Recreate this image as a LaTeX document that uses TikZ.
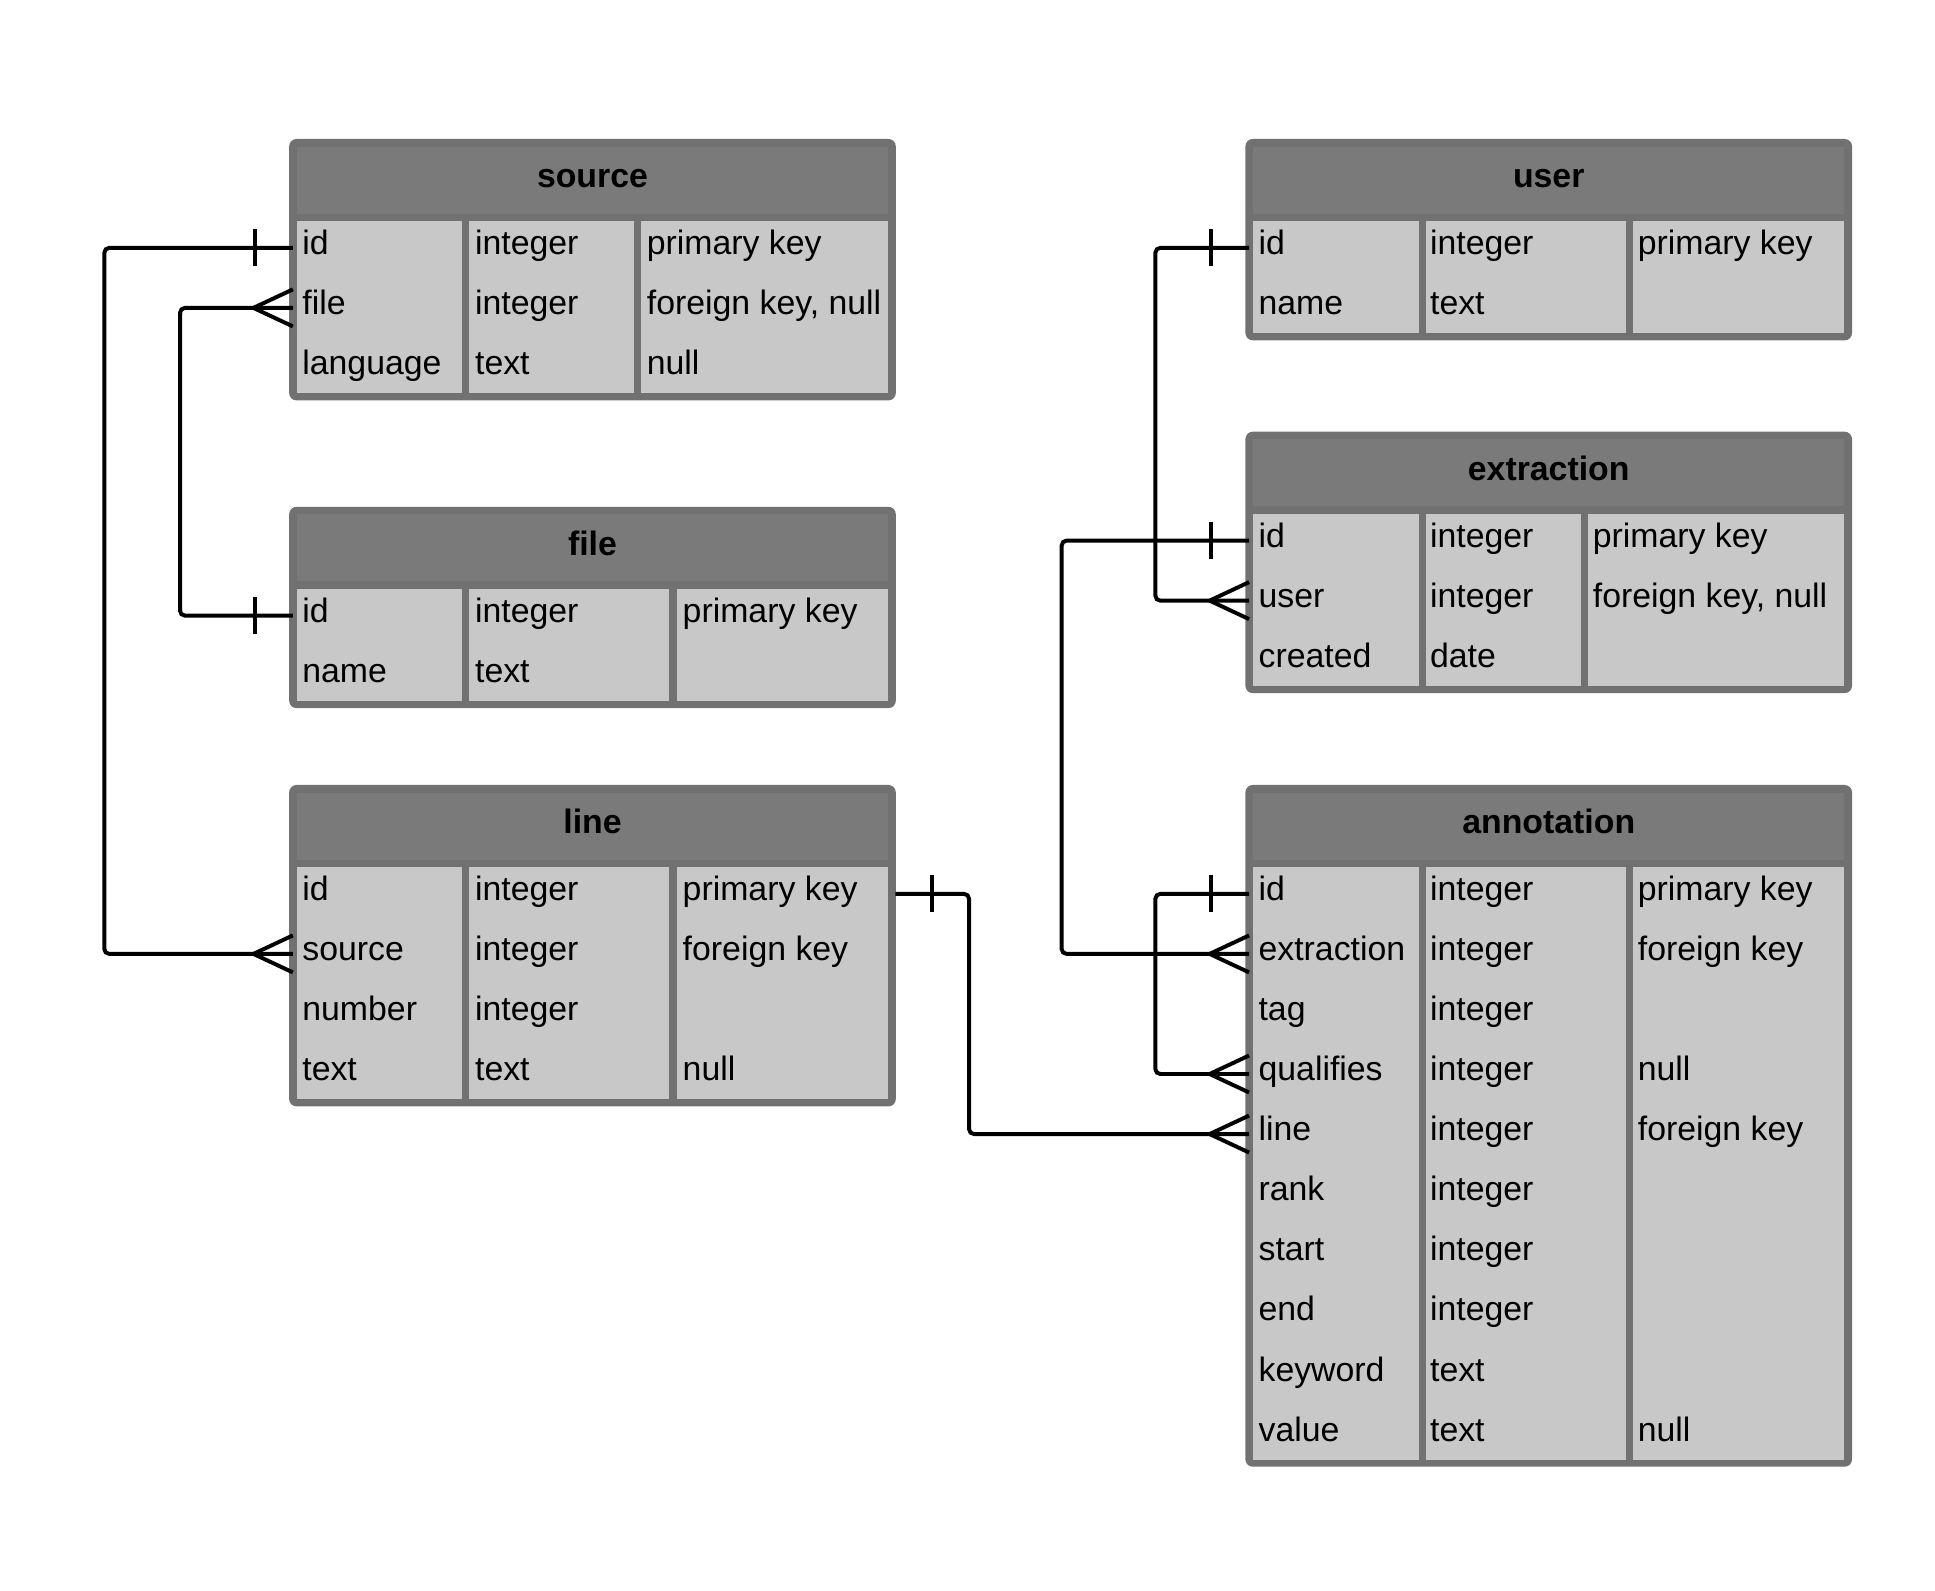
\documentclass[tikz,border=0pt]{standalone}
\usepackage{fontspec}
\setmainfont{Liberation Sans}
\usepackage{xcolor}
\definecolor{framegray}{RGB}{113,113,113}
\definecolor{headgray}{RGB}{122,122,122}
\definecolor{cellgray}{RGB}{200,200,200}

\begin{document}
\begin{tikzpicture}[x=0.01cm, y=-0.01cm]
        % ================= styles =================
        \tikzset{
            % field name: spans the whole table, connectors attach to its sides
            field/.style={anchor=base west, align=left, font=\fontsize{7.8}{9}\selectfont,
                text height=1.9mm, text depth=0.8mm, inner xsep=1mm, inner ysep=0pt, text width=4.72cm},
            % type / key text
            cell/.style={anchor=base west, font=\fontsize{7.8}{9}\selectfont, inner sep=0pt},
            % table title
            title/.style={anchor=base, font=\fontsize{7.8}{9}\selectfont\bfseries},
            % relation lines
            rel/.style={line width=0.32mm, black, rounded corners=0.4mm},
            onebar/.pic={\draw[rel] (-28,-15) -- (-28,15);},
            crowfoot/.pic={\draw[rel] (-29,0) -- (3,-15) (-29,0) -- (3,15);}
        }

        \useasboundingbox (0,0) rectangle (1569.3,1289.5);

        % ================= 1. table frames =================
        % left x / top / bottom / end of column 2 / start of column 3
        \foreach \tl/\tt/\tb/\ca/\cb in {234.5/112.7/324.7/514.4/519.9,
                234.5/411/574.3/542.7/549, 234.5/636.6/897.3/542.7/549,
                1010/112.7/276/1318.7/1324.6, 1010/350.1/562.1/1282/1287.6,
                1010/636.6/1189.5/1318.7/1324.6} {
            \fill[framegray, rounded corners=0.6mm] (\tl,\tt) rectangle ({\tl+492},\tb);
            \fill[headgray] ({\tl+6.2},{\tt+6.2}) rectangle ({\tl+485.8},{\tt+60.5});
            \fill[cellgray] ({\tl+6.2},{\tt+66.5}) rectangle ({\tl+140.5},{\tb-5.8});
            \fill[cellgray] ({\tl+146.1},{\tt+66.5}) rectangle (\ca,{\tb-5.8});
            \fill[cellgray] (\cb,{\tt+66.5}) rectangle ({\tl+485.8},{\tb-5.8});
        }

        % ================= 2. titles =================
        \node[title] (src-title)  at (480.5,152)   {source};
        \node[title] (file-title) at (480.5,450.3) {file};
        \node[title] (line-title) at (480.5,675.9) {line};
        \node[title] (user-title) at (1256,152)    {user};
        \node[title] (ext-title)  at (1256,389.4)  {extraction};
        \node[title] (ann-title)  at (1256,675.9)  {annotation};

        % ================= 3. rows =================
        % source
        \foreach \fn/\ty [count=\n from 0] in {id/integer, file/integer, language/text} {
            \node[field] (src-\fn) at (234.5,{206.5+48.7*\n}) {\fn};
            \node[cell] (src-\fn-type) at (384.6,{206.5+48.7*\n}) {\ty};
        }
        \foreach \n/\ky in {0/primary key, 1/{foreign key, null}, 2/null}
            \node[cell] (src-key\n) at (523.9,{206.5+48.7*\n}) {\ky};

        % file
        \foreach \fn/\ty [count=\n from 0] in {id/integer, name/text} {
            \node[field] (file-\fn) at (234.5,{504.8+48.7*\n}) {\fn};
            \node[cell] (file-\fn-type) at (384.6,{504.8+48.7*\n}) {\ty};
        }
        \node[cell] (file-key0) at (553,504.8) {primary key};

        % line
        \foreach \fn/\ty [count=\n from 0] in {id/integer, source/integer, number/integer, text/text} {
            \node[field] (line-\fn) at (234.5,{730.4+48.7*\n}) {\fn};
            \node[cell] (line-\fn-type) at (384.6,{730.4+48.7*\n}) {\ty};
        }
        \foreach \n/\ky in {0/primary key, 1/foreign key, 3/null}
            \node[cell] (line-key\n) at (553,{730.4+48.7*\n}) {\ky};

        % user
        \foreach \fn/\ty [count=\n from 0] in {id/integer, name/text} {
            \node[field] (user-\fn) at (1010,{206.5+48.7*\n}) {\fn};
            \node[cell] (user-\fn-type) at (1159.1,{206.5+48.7*\n}) {\ty};
        }
        \node[cell] (user-key0) at (1327.6,206.5) {primary key};

        % extraction
        \foreach \fn/\ty [count=\n from 0] in {id/integer, user/integer, created/date} {
            \node[field] (ext-\fn) at (1010,{443.9+48.7*\n}) {\fn};
            \node[cell] (ext-\fn-type) at (1159.1,{443.9+48.7*\n}) {\ty};
        }
        \foreach \n/\ky in {0/primary key, 1/{foreign key, null}}
            \node[cell] (ext-key\n) at (1291.1,{443.9+48.7*\n}) {\ky};

        % annotation
        \foreach \fn/\ty [count=\n from 0] in {id/integer, extraction/integer, tag/integer,
                qualifies/integer, line/integer, rank/integer, start/integer,
                end/integer, keyword/text, value/text} {
            \node[field] (ann-\fn) at (1010,{730.4+48.7*\n}) {\fn};
            \node[cell] (ann-\fn-type) at (1159.1,{730.4+48.7*\n}) {\ty};
        }
        \foreach \n/\ky in {0/primary key, 1/foreign key, 3/null, 4/foreign key, 9/null}
            \node[cell] (ann-key\n) at (1327.6,{730.4+48.7*\n}) {\ky};

        % ================= 4. relations =================
        \draw[rel, shorten <=-0.3mm, shorten >=-0.3mm] (src-id.west) -- ++(-149.9,0) |- (line-source.west);
        \draw[rel, shorten <=-0.3mm, shorten >=-0.3mm] (src-file.west) -- ++(-88.5,0) |- (file-id.west);
        \draw[rel, shorten <=-0.2mm, shorten >=-0.3mm] (line-id.east) -- ++(57.7,0) |- (ann-line.west);
        \draw[rel, shorten <=-0.3mm, shorten >=-0.3mm] (user-id.west) -- ++(-73,0) |- (ext-user.west);
        \draw[rel, shorten <=-0.3mm, shorten >=-0.3mm] (ext-id.west) -- ++(-149,0) |- (ann-extraction.west);
        \draw[rel, shorten <=-0.3mm, shorten >=-0.3mm] (ann-id.west) -- ++(-73,0) |- (ann-qualifies.west);

        % ends: bar = one, crow's foot = many
        \pic at (src-id.west) {onebar};
        \pic at (line-source.west) {crowfoot};
        \pic at (src-file.west) {crowfoot};
        \pic at (file-id.west) {onebar};
        \pic[rotate=180] at (line-id.east) {onebar};
        \pic at (ann-line.west) {crowfoot};
        \pic at (user-id.west) {onebar};
        \pic at (ext-user.west) {crowfoot};
        \pic at (ext-id.west) {onebar};
        \pic at (ann-extraction.west) {crowfoot};
        \pic at (ann-id.west) {onebar};
        \pic at (ann-qualifies.west) {crowfoot};

    \end{tikzpicture}
\end{document}
